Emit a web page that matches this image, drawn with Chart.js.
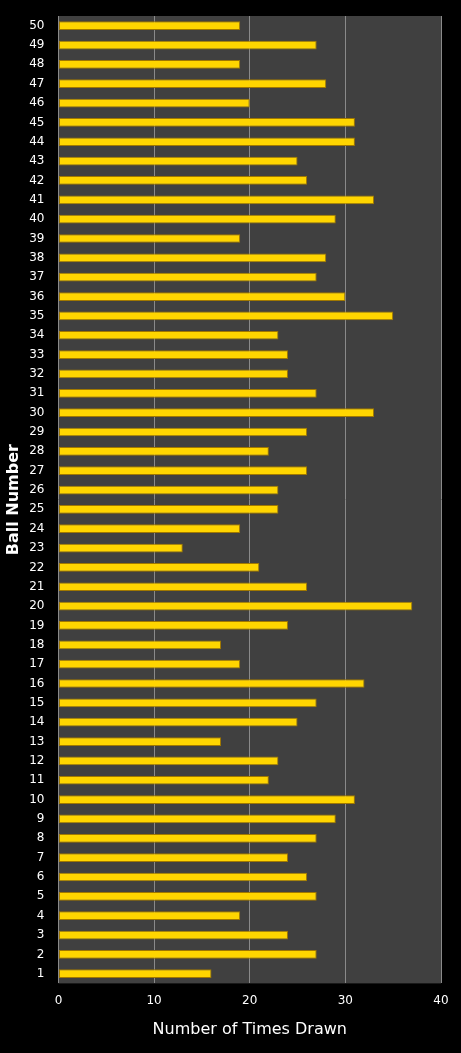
<!DOCTYPE html>
<html>
<head>
<meta charset="utf-8">
<script src="https://cdn.jsdelivr.net/npm/chart.js@4/dist/chart.umd.min.js"></script>
<style>
  html, body { margin: 0; padding: 0; background: #000; }
  #wrap { width: 461px; height: 1053px; }
</style>
</head>
<body>
<div id="wrap"><canvas id="ballChart"></canvas></div>
<script>
// ball numbers 1..50 and how often each was drawn
const balls = [];
for (let i = 1; i <= 50; i++) balls.push(String(i));

const timesDrawn = [
  16, 27, 24, 19, 27, 26, 24, 27, 29, 31,
  22, 23, 17, 25, 27, 32, 19, 17, 24, 37,
  26, 21, 13, 19, 23, 23, 26, 22, 26, 33,
  27, 24, 24, 23, 35, 30, 27, 28, 19, 29,
  33, 26, 25, 31, 31, 20, 28, 19, 27, 19
];

const xTicks = [0, 10, 20, 30, 40];

// paint the plot area dark grey
const plotBg = {
  id: 'plotBg',
  beforeDraw(chart) {
    const { ctx, chartArea: a } = chart;
    ctx.save();
    ctx.fillStyle = '#404040';
    ctx.fillRect(a.left, a.top, a.right - a.left, a.bottom - a.top);
    ctx.restore();
  }
};

const ctx = document.getElementById('ballChart').getContext('2d');
new Chart(ctx, {
  type: 'bar',
  data: {
    labels: balls,
    datasets: [{
      data: timesDrawn,
      backgroundColor: '#FFD500',
      borderColor: '#A07800',
      borderWidth: 1,
      borderSkipped: false,
      barPercentage: 0.45,
      categoryPercentage: 1
    }]
  },
  options: {
    indexAxis: 'y',
    responsive: true,
    maintainAspectRatio: false,
    animation: false,
    layout: { padding: { top: 16, right: 20, left: 4, bottom: 10 } },
    plugins: { legend: { display: false }, tooltip: { enabled: false } },
    scales: {
      x: {
        min: 0, max: 40,
        afterBuildTicks: s => { s.ticks = xTicks.map(v => ({ value: v })); },
        grid: { color: '#8a8a8a', drawTicks: false },
        border: { display: false },
        ticks: { color: '#fff', font: { family: 'DejaVu Sans', size: 12 }, padding: 10 },
        title: { display: true, text: 'Number of Times Drawn', color: '#fff',
                 font: { family: 'DejaVu Sans', size: 16 }, padding: { top: 2 } }
      },
      y: {
        reverse: true,
        grid: { display: false },
        border: { display: false },
        ticks: { color: '#fff', font: { family: 'DejaVu Sans', size: 12 }, autoSkip: false, padding: 6 },
        title: { display: true, text: 'Ball Number', color: '#fff',
                 font: { family: 'DejaVu Sans', size: 16, weight: 'bold' }, padding: 0 }
      }
    }
  },
  plugins: [plotBg]
});
</script>
</body>
</html>
